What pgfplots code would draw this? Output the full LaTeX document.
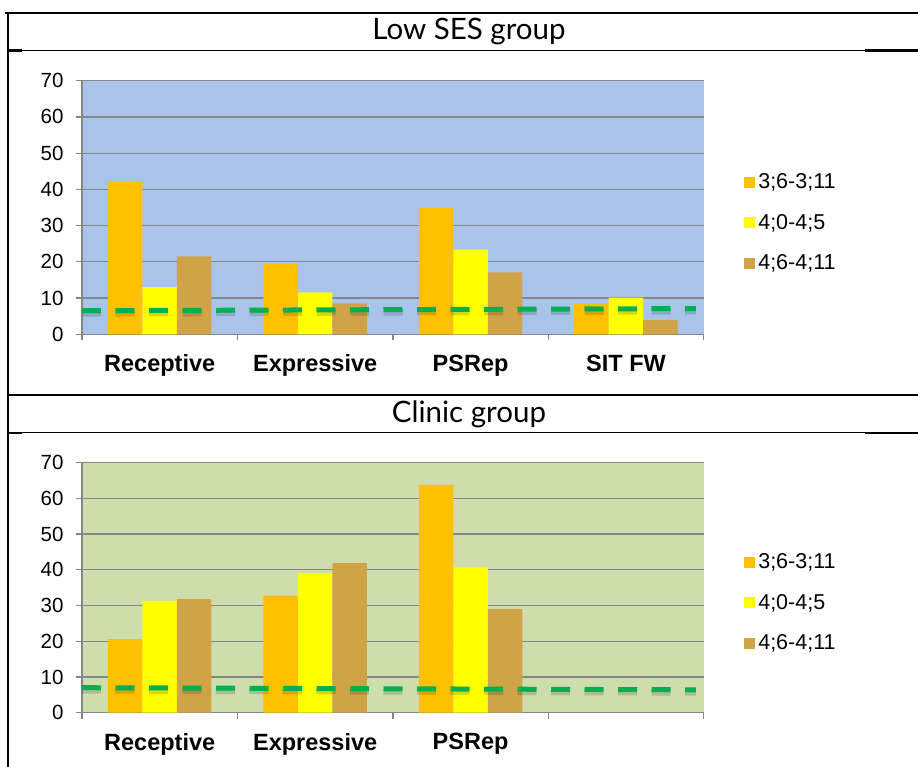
\documentclass[border=0pt]{standalone}
\usepackage{pgfplots}
\pgfplotsset{compat=1.18}
\usepackage{fontspec}
\setmainfont{Liberation Sans}
\newfontfamily\titlefont{Lato}
\definecolor{bgblue}{RGB}{169,196,235}
\definecolor{bggreen}{RGB}{206,221,172}
\definecolor{cOrange}{RGB}{255,192,0}
\definecolor{cYellow}{RGB}{255,255,0}
\definecolor{cBrown}{RGB}{209,163,71}
\definecolor{cGreen}{RGB}{0,176,80}
\definecolor{cGrid}{RGB}{134,134,134}
\pgfplotsset{
  panel/.style={
    anchor=south west,
    scale only axis,
    width=621.7pt,
    ybar=0pt,
    bar width=34.5pt,
    xmin=-0.5, xmax=3.5,
    ymin=0, ymax=70,
    ytick={0,10,...,70},
    xtick={0,1,2,3},
    minor xtick={-0.5,0.5,1.5,2.5,3.5},
    axis lines*=left,
    axis line style={cGrid, line width=1.3pt},
    ymajorgrids,
    major grid style={cGrid, line width=1.3pt},
    tick align=outside,
    major tick length=6pt,
    minor tick length=6pt,
    tick style={cGrid, line width=1.3pt},
    major x tick style={draw=none},
    /pgf/number format/assume math mode=true,
    yticklabel style={font=\fontsize{20.5}{24}\selectfont, xshift=-9pt},
    xticklabel style={font=\bfseries\fontsize{23.5}{28}\selectfont, yshift=-11pt},
    legend image code/.code={\fill[##1] (0pt,-5.5pt) rectangle (11pt,5.5pt);},
    legend style={at={(1.065,0.44)}, anchor=west, draw=none, fill=none,
      font=\fontsize{21.5}{25}\selectfont, row sep=18pt, inner sep=0pt,
      nodes={inner sep=3pt}},
    legend cell align=left,
  },
  dashline/.style={cGreen, line width=5pt, dash pattern=on 19pt off 14.5pt, forget plot, sharp plot},
  dashshadow/.style={black, opacity=0.15, line width=6pt, dash pattern=on 19pt off 14.5pt, forget plot, sharp plot},
}
\begin{document}
\begin{tikzpicture}[x=1pt,y=1pt]
\useasboundingbox (0,0) rectangle (918,767);
% table lines
\draw[line width=2.2pt] (5,754) -- (918,754);
\draw[line width=2.2pt] (8,755) -- (8,0);
\draw[line width=1pt] (8,716.5) -- (918,716.5);
\draw[line width=2.2pt] (8,716.5) -- (22,716.5);
\draw[line width=2.2pt] (865,716.5) -- (918,716.5);
\draw[line width=2.2pt] (8,372) -- (918,372);
\draw[line width=1pt] (8,334.3) -- (918,334.3);
\draw[line width=2.2pt] (8,334.3) -- (22,334.3);
\draw[line width=2.2pt] (865,334.3) -- (918,334.3);
\node[font=\titlefont\fontsize{29.5}{33}\selectfont] at (469,735) {Low SES group};
\node[font=\titlefont\fontsize{29.5}{33}\selectfont] at (469,353) {Clinic group};

\begin{axis}[panel, at={(82pt,432.7pt)}, height=253.6pt,
  axis background/.style={fill=bgblue},
  xticklabels={Receptive,Expressive,PSRep,SIT FW}]
\addplot[fill=cOrange, draw=none] coordinates {(0,42.1) (1,19.6) (2,34.9) (3,8.4)};
\addplot[fill=cYellow, draw=none] coordinates {(0,13.0) (1,11.6) (2,23.4) (3,10.1)};
\addplot[fill=cBrown, draw=none] coordinates {(0,21.5) (1,8.5) (2,17.1) (3,4.0)};
\addplot[dashshadow] coordinates {(-0.5,5.7) (3.45,6.3)};
\addplot[dashline] coordinates {(-0.5,6.5) (3.45,7.1)};
\legend{3;6-3;11,4;0-4;5,4;6-4;11}
\end{axis}

\begin{axis}[panel, at={(82pt,54.3pt)}, height=250pt,
  axis background/.style={fill=bggreen},
  xticklabels={Receptive,Expressive,PSRep,{}}]
\addplot[fill=cOrange, draw=none] coordinates {(0,20.6) (1,32.8) (2,63.8)};
\addplot[fill=cYellow, draw=none] coordinates {(0,31.3) (1,39.0) (2,40.7)};
\addplot[fill=cBrown, draw=none] coordinates {(0,31.8) (1,41.9) (2,29.0)};
\addplot[dashshadow] coordinates {(-0.5,6.2) (3.45,5.6)};
\addplot[dashline] coordinates {(-0.5,7.0) (3.45,6.4)};
\legend{3;6-3;11,4;0-4;5,4;6-4;11}
\end{axis}
\end{tikzpicture}
\end{document}
